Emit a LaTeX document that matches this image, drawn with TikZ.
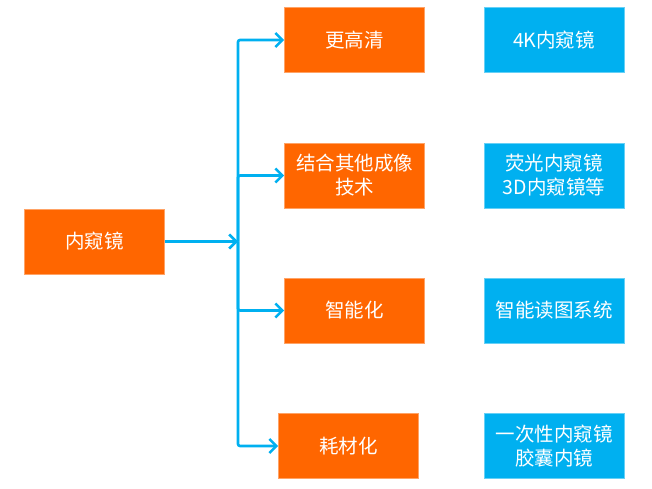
\documentclass[tikz,border=0pt]{standalone}
\usepackage{fontspec}
\setmainfont{Noto Sans CJK SC}
\usetikzlibrary{arrows.meta}
\definecolor{org}{HTML}{FF6600}
\definecolor{sky}{HTML}{00B0F0}
\tikzset{
  obox/.style={fill=org, draw=org!60!white, line width=0.6pt, minimum width=140pt, minimum height=65pt, inner sep=0pt, text=white, font=\fontsize{19.5pt}{24pt}\selectfont, align=center},
  bbox/.style={obox, fill=sky, draw=sky!60!white},
  arr/.style={draw=sky, line width=2.6pt, rounded corners=2pt, -{Straight Barb[length=7pt, width=14pt, line width=2.6pt]}}
}
\begin{document}
\begin{tikzpicture}[x=1pt, y=-1pt]
\useasboundingbox (0,0) rectangle (652,489);
\node[obox] (main) at (94.5,241.5) {内窥镜};
\node[obox] (b1) at (354.5,40) {更高清};
\node[obox] (b2) at (354.5,175.5) {结合其他成像\\技术};
\node[obox] (b3) at (354.5,310.5) {智能化};
\node[obox] (b4) at (348.5,446) {耗材化};
\node[bbox] (c1) at (554,40) {4K内窥镜};
\node[bbox] (c2) at (554,175.5) {荧光内窥镜\\3D内窥镜等};
\node[bbox] (c3) at (554,310.5) {智能读图系统};
\node[bbox] (c4) at (554,446) {一次性内窥镜\\胶囊内镜};
\coordinate (jct) at (238,241.5);
\draw[arr] (main.east) -- (jct);
\draw[arr] (jct) |- (b1.west);
\draw[arr] (jct) |- (b2.west);
\draw[arr] (jct) |- (b3.west);
\draw[arr] (jct) |- (b4.west);
\end{tikzpicture}
\end{document}
